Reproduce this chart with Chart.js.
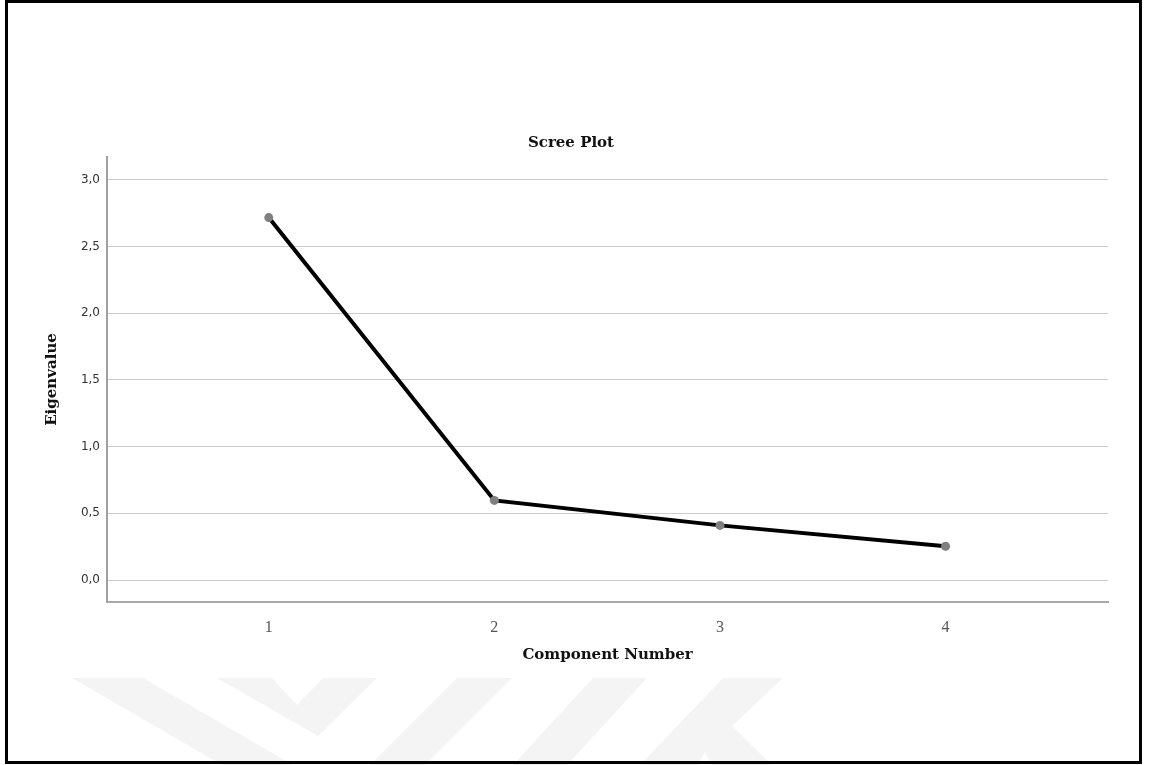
<!DOCTYPE html>
<html>
<head>
<meta charset="utf-8">
<script src="https://cdn.jsdelivr.net/npm/chart.js@4"></script>
<style>
html, body { margin: 0; padding: 0; background: #fff; }
#wrap { position: relative; width: 1149px; height: 765px; }
#frame { position: absolute; left: 5px; top: 0; width: 1137px; height: 764px; border: 3px solid #000; box-sizing: border-box; pointer-events: none; }
</style>
</head>
<body>
<div id="wrap">
  <canvas id="screeChart" width="1149" height="765"></canvas>
  <div id="frame"></div>
</div>
<script>
// Scree plot data
const components = [1, 2, 3, 4];
const eigenvalues = [2.716, 0.597, 0.41, 0.254];
const yTicks = [0, 0.5, 1, 1.5, 2, 2.5, 3];

const serif = '"Liberation Serif", "Times New Roman", serif';
const boldSerif = '"DejaVu Serif", serif';

// faint watermark in the lower part of the page
const watermark = {
    id: 'watermark',
    beforeDraw(chart) {
        const ctx = chart.ctx;
        const shapes = [
            [[72, 678], [143, 678], [293, 765], [222, 765]],
            [[217, 678], [272, 678], [297, 705], [323, 678], [377, 678], [318, 736]],
            [[457, 678], [512, 678], [425, 765], [370, 765]],
            [[593, 678], [647, 678], [567, 765], [513, 765]],
            [[723, 678], [783, 678], [732, 726], [772, 765], [712, 765], [705, 752], [698, 765], [640, 765]]
        ];
        ctx.save();
        ctx.fillStyle = '#f4f4f4';
        shapes.forEach(pts => {
            ctx.beginPath();
            pts.forEach((p, i) => i ? ctx.lineTo(p[0], p[1]) : ctx.moveTo(p[0], p[1]));
            ctx.closePath();
            ctx.fill();
        });
        ctx.restore();
    }
};

const ctx = document.getElementById('screeChart').getContext('2d');

const screeChart = new Chart(ctx, {
    type: 'line',
    data: {
        datasets: [{
            label: 'Eigenvalue',
            data: components.map((c, i) => ({ x: c, y: eigenvalues[i] })),
            borderColor: '#000',
            borderWidth: 4,
            tension: 0,
            pointRadius: 4.5,
            pointBackgroundColor: '#808080',
            pointBorderWidth: 0,
            fill: false
        }]
    },
    options: {
        responsive: false,
        animation: false,
        layout: { padding: { left: 17, right: 24, top: 0, bottom: 0 } },
        plugins: {
            legend: { display: false },
            tooltip: { enabled: false },
            title: {
                display: true,
                text: 'Scree Plot',
                color: '#111',
                font: { family: boldSerif, size: 15, weight: 'bold', lineHeight: 1.2 },
                padding: { top: 134.5, bottom: 4.5 }
            }
        },
        scales: {
            x: {
                type: 'linear',
                min: 0.283,
                max: 4.72,
                afterBuildTicks: s => { s.ticks = components.map(v => ({ value: v })); },
                afterFit: s => { s.height = 163; },
                grid: { display: false },
                border: { display: true, color: '#a8a8a8', width: 2 },
                ticks: {
                    color: '#555',
                    font: { family: serif, size: 16 },
                    padding: 8,
                    maxRotation: 0
                },
                title: {
                    display: true,
                    text: 'Component Number',
                    color: '#111',
                    font: { family: boldSerif, size: 15, weight: 'bold', lineHeight: 1.2 },
                    padding: { top: 0, bottom: 101 }
                }
            },
            y: {
                type: 'linear',
                min: -0.164,
                max: 3.17,
                afterBuildTicks: s => { s.ticks = yTicks.map(v => ({ value: v })); },
                afterFit: s => { s.width = 90; },
                grid: { color: '#cccccc', lineWidth: 1, drawTicks: false },
                border: { display: true, color: '#a0a0a0', width: 2 },
                ticks: {
                    color: '#333',
                    font: { family: '"DejaVu Sans", sans-serif', size: 12 },
                    padding: 7,
                    callback: v => v.toFixed(1).replace('.', ',')
                },
                title: {
                    display: true,
                    text: 'Eigenvalue',
                    color: '#111',
                    font: { family: boldSerif, size: 15, weight: 'bold', lineHeight: 1.2 },
                    padding: { top: 26, bottom: 0 }
                }
            },
            // empty right-hand axis, only to keep the plot area where it is
            yRight: {
                position: 'right',
                min: -0.164,
                max: 3.17,
                afterFit: s => { s.width = 17; },
                grid: { display: false, drawOnChartArea: false },
                border: { display: false },
                ticks: { display: false }
            }
        }
    },
    plugins: [watermark]
});
</script>
</body>
</html>
